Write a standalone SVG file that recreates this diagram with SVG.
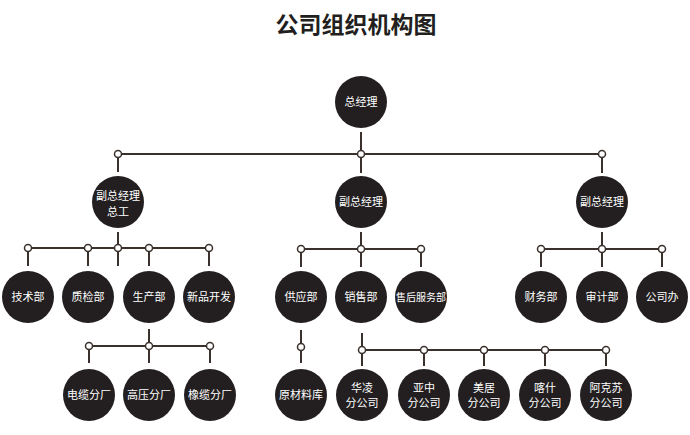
<svg xmlns="http://www.w3.org/2000/svg" width="690" height="435" viewBox="0 0 690 435">
<style>
.n{fill:#231f20}
.t{fill:#ffffff;font-family:"Noto Sans CJK SC","Noto Sans",sans-serif;font-size:11px;text-anchor:middle}
.ln{stroke:#3a302c;stroke-width:2;fill:none}
.rg{fill:#ffffff;stroke:#3a302c;stroke-width:1.5}
.title{fill:#231f20;font-family:"Noto Sans CJK SC","Noto Sans",sans-serif;font-size:23px;font-weight:bold;text-anchor:middle}
</style>
<rect width="690" height="435" fill="#ffffff"/>
<text class="title" x="356" y="33">公司组织机构图</text>
<g id="connectors">
<path class="ln" d="M361 132V173M118 154H602M118 154V172M602 154V173"/>
<path class="ln" d="M118 232V266M28 248H209M28 248V266M88 248V266M149 248V266M209 248V266"/>
<path class="ln" d="M361 232V267M301 249H421M301 249V267M421 249V267"/>
<path class="ln" d="M602 232V267M541 249H662M541 249V267M662 249V267"/>
<path class="ln" d="M149 329V363M89 346H210M89 346V363M210 346V363"/>
<path class="ln" d="M301 330V363"/>
<path class="ln" d="M362 333V366M362 350H606M424 350V366M484 350V366M545 350V366M606 350V366"/>
<g>
<circle class="rg" cx="361" cy="154" r="3.5"/><circle class="rg" cx="118" cy="154" r="3.5"/><circle class="rg" cx="602" cy="154" r="3.5"/>
<circle class="rg" cx="28" cy="248" r="3.5"/><circle class="rg" cx="88" cy="248" r="3.5"/><circle class="rg" cx="118" cy="248" r="3.5"/><circle class="rg" cx="149" cy="248" r="3.5"/><circle class="rg" cx="209" cy="248" r="3.5"/>
<circle class="rg" cx="301" cy="249" r="3.5"/><circle class="rg" cx="361" cy="249" r="3.5"/><circle class="rg" cx="421" cy="249" r="3.5"/>
<circle class="rg" cx="541" cy="249" r="3.5"/><circle class="rg" cx="602" cy="249" r="3.5"/><circle class="rg" cx="662" cy="249" r="3.5"/>
<circle class="rg" cx="89" cy="346" r="3.5"/><circle class="rg" cx="149" cy="346" r="3.5"/><circle class="rg" cx="210" cy="346" r="3.5"/>
<circle class="rg" cx="301" cy="347" r="3.5"/>
<circle class="rg" cx="362" cy="350" r="3.5"/><circle class="rg" cx="424" cy="350" r="3.5"/><circle class="rg" cx="484" cy="350" r="3.5"/><circle class="rg" cx="545" cy="350" r="3.5"/><circle class="rg" cx="606" cy="350" r="3.5"/>
</g>
</g>
<g id="n-gm"><circle class="n" cx="361" cy="102" r="26"/><text class="t" x="361" y="106">总经理</text></g>
<g id="n-vp1"><circle class="n" cx="118" cy="202" r="26"/><text class="t" x="118" y="200">副总经理</text><text class="t" x="118" y="216">总工</text></g>
<g id="n-vp2"><circle class="n" cx="361" cy="202" r="26"/><text class="t" x="361" y="206">副总经理</text></g>
<g id="n-vp3"><circle class="n" cx="602" cy="202" r="26"/><text class="t" x="602" y="206">副总经理</text></g>
<g id="n-tech"><circle class="n" cx="28" cy="297" r="26"/><text class="t" x="28" y="301">技术部</text></g>
<g id="n-qc"><circle class="n" cx="88" cy="297" r="26"/><text class="t" x="88" y="301">质检部</text></g>
<g id="n-prod"><circle class="n" cx="149" cy="297" r="26"/><text class="t" x="149" y="301">生产部</text></g>
<g id="n-newdev"><circle class="n" cx="209" cy="297" r="26"/><text class="t" x="209" y="301">新品开发</text></g>
<g id="n-supply"><circle class="n" cx="301" cy="297" r="26"/><text class="t" x="301" y="301">供应部</text></g>
<g id="n-sales"><circle class="n" cx="361" cy="297" r="26"/><text class="t" x="361" y="301">销售部</text></g>
<g id="n-service"><circle class="n" cx="421" cy="297" r="26"/><text class="t" x="421" y="301" style="font-size:10px">售后服务部</text></g>
<g id="n-fin"><circle class="n" cx="541" cy="297" r="26"/><text class="t" x="541" y="301">财务部</text></g>
<g id="n-audit"><circle class="n" cx="602" cy="297" r="26"/><text class="t" x="602" y="301">审计部</text></g>
<g id="n-office"><circle class="n" cx="662" cy="297" r="26"/><text class="t" x="662" y="301">公司办</text></g>
<g id="n-f1"><circle class="n" cx="89" cy="395" r="26"/><text class="t" x="89" y="399">电缆分厂</text></g>
<g id="n-f2"><circle class="n" cx="149" cy="395" r="26"/><text class="t" x="149" y="399">高压分厂</text></g>
<g id="n-f3"><circle class="n" cx="210" cy="395" r="26"/><text class="t" x="210" y="399">橡缆分厂</text></g>
<g id="n-store"><circle class="n" cx="301" cy="395" r="26"/><text class="t" x="301" y="399">原材料库</text></g>
<g id="n-b1"><circle class="n" cx="362" cy="395" r="26"/><text class="t" x="362" y="392">华凌</text><text class="t" x="362" y="407">分公司</text></g>
<g id="n-b2"><circle class="n" cx="424" cy="395" r="26"/><text class="t" x="424" y="392">亚中</text><text class="t" x="424" y="407">分公司</text></g>
<g id="n-b3"><circle class="n" cx="484" cy="395" r="26"/><text class="t" x="484" y="392">美居</text><text class="t" x="484" y="407">分公司</text></g>
<g id="n-b4"><circle class="n" cx="545" cy="395" r="26"/><text class="t" x="545" y="392">喀什</text><text class="t" x="545" y="407">分公司</text></g>
<g id="n-b5"><circle class="n" cx="606" cy="395" r="26"/><text class="t" x="606" y="392">阿克苏</text><text class="t" x="606" y="407">分公司</text></g>
</svg>
